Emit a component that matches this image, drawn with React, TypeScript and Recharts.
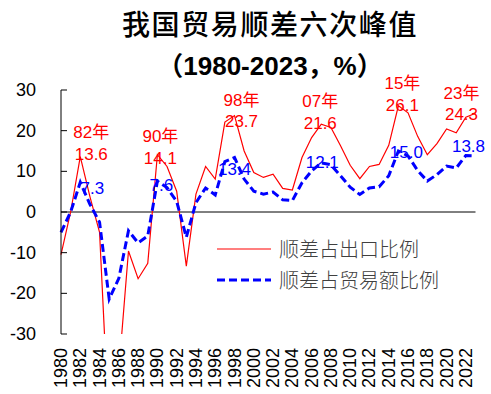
import React from 'react';
import { LineChart, Line, XAxis, YAxis, ReferenceLine, ReferenceDot, Legend } from 'recharts';

const years = [
  1980, 1981, 1982, 1983, 1984, 1985, 1986, 1987, 1988, 1989,
  1990, 1991, 1992, 1993, 1994, 1995, 1996, 1997, 1998, 1999,
  2000, 2001, 2002, 2003, 2004, 2005, 2006, 2007, 2008, 2009,
  2010, 2011, 2012, 2013, 2014, 2015, 2016, 2017, 2018, 2019,
  2020, 2021, 2022, 2023,
];
const exportRatio = [
  -10.5, 0.0, 13.6, 3.8, -5.0, -54.0, -38.9, -9.6, -16.4, -12.6,
  14.1, 11.2, 5.1, -13.3, 4.4, 11.2, 8.1, 22.1, 23.7, 15.0,
  9.7, 8.5, 9.3, 5.8, 5.4, 13.4, 18.3, 21.6, 20.8, 16.3,
  11.5, 8.2, 11.2, 11.7, 16.4, 26.1, 24.4, 18.6, 14.1, 16.8,
  20.4, 19.5, 23.3, 24.3,
];
const tradeRatio = [
  -5.0, 0.0, 7.3, 1.9, -2.5, -21.4, -16.3, -4.6, -7.6, -5.9,
  7.6, 6.0, 2.6, -6.2, 2.3, 5.9, 4.2, 12.4, 13.4, 8.1,
  5.1, 4.4, 4.9, 3.0, 2.8, 7.2, 10.1, 12.1, 11.6, 8.9,
  6.1, 4.3, 5.9, 6.2, 8.9, 15.0, 13.8, 10.2, 7.6, 9.2,
  11.3, 10.8, 13.9, 13.8,
];
const xTicks = [1980, 1982, 1984, 1986, 1988, 1990, 1992, 1994, 1996, 1998, 2000, 2002, 2004, 2006, 2008, 2010, 2012, 2014, 2016, 2018, 2020, 2022];
const yTicks = [-30, -20, -10, 0, 10, 20, 30];

const peakYears = [1982, 1990, 1998, 2007, 2015, 2023];
const peakTags = ['82年', '90年', '98年', '07年', '15年', '23年'];

const seriesNames = ['顺差占出口比例', '顺差占贸易额比例'];
const title = '我国贸易顺差六次峰值';
const subtitle = '（1980-2023，%）';

// label offsets (styling, px): [dx, dyTag, dyValue]
const exportLabelOffsets = [
  [11, -24, -2],
  [3, -18, 4],
  [7, -15, 6],
  [-1, -23, -1],
  [4, -22, 0],
  [-14, -20, 1],
];
const tradeLabelOffsets = [
  [12, 6],
  [4, 4],
  [0, 12],
  [1, 0],
  [8, 1],
  [-7, -9],
];

const RED = '#FF0000';
const BLUE = '#0000FF';
const NUM_FONT = '"Liberation Sans", Arial, "Noto Sans CJK SC", sans-serif';
const CJK_FONT = '"Noto Sans CJK SC", sans-serif';

const data = years.map((y, i) => ({ year: y, exp: exportRatio[i], trade: tradeRatio[i] }));

const YTick = (props: any) => {
  const { x, y, payload } = props;
  return (
    <g>
      <line x1={x} x2={x + 6} y1={y} y2={y} stroke="#000" strokeWidth={1} />
      <text x={x - 25} y={y} textAnchor="end" dominantBaseline="central" fontSize={18} fontFamily={NUM_FONT} fill="#000">
        {payload.value}
      </text>
    </g>
  );
};

const XTick = (props: any) => {
  const { x, y, payload } = props;
  const ax = x + 6;
  const ay = y + 14;
  return (
    <text x={ax} y={ay} transform={`rotate(-90, ${ax}, ${ay})`} textAnchor="end" fontSize={18} fontFamily={NUM_FONT} fill="#000">
      {payload.value}
    </text>
  );
};

const makeExportLabel = (i: number) => (p: any) => {
  const vb = p.viewBox;
  const cx = vb.x + vb.width / 2;
  const cy = vb.y + vb.height / 2;
  const [dx, dyT, dyV] = exportLabelOffsets[i];
  const idx = years.indexOf(peakYears[i]);
  return (
    <g>
      <text x={cx + dx} y={cy + dyT} textAnchor="middle" dominantBaseline="central" fontSize={17} fontFamily={NUM_FONT} fill={RED}>
        {peakTags[i]}
      </text>
      <text x={cx + dx} y={cy + dyV} textAnchor="middle" dominantBaseline="central" fontSize={17} fontFamily={NUM_FONT} fill={RED}>
        {exportRatio[idx].toFixed(1)}
      </text>
    </g>
  );
};

const makeTradeLabel = (i: number) => (p: any) => {
  const vb = p.viewBox;
  const cx = vb.x + vb.width / 2;
  const cy = vb.y + vb.height / 2;
  const [dx, dy] = tradeLabelOffsets[i];
  const idx = years.indexOf(peakYears[i]);
  return (
    <text x={cx + dx} y={cy + dy} textAnchor="middle" dominantBaseline="central" fontSize={17} fontFamily={NUM_FONT} fill={BLUE}>
      {tradeRatio[idx].toFixed(1)}
    </text>
  );
};

const LegendContent = () => {
  const rows = [
    { name: seriesNames[0], color: RED, width: 1.2, dash: undefined as string | undefined },
    { name: seriesNames[1], color: BLUE, width: 3, dash: '8 4' },
  ];
  return (
    <div>
      {rows.map((r) => (
        <div key={r.name} style={{ display: 'flex', alignItems: 'center', height: 31 }}>
          <svg width={56} height={6} style={{ marginRight: 6 }}>
            <line x1={0} x2={54} y1={3} y2={3} stroke={r.color} strokeWidth={r.width} strokeDasharray={r.dash} />
          </svg>
          <span style={{ fontFamily: CJK_FONT, fontSize: 20, fontWeight: 300, color: '#404040', lineHeight: '31px' }}>{r.name}</span>
        </div>
      ))}
    </div>
  );
};

export default function App() {
  return (
    <div style={{ position: 'absolute', left: 0, top: 0, width: 491, height: 394, background: '#fff' }}>
      <LineChart width={491} height={394} data={data} margin={{ top: 90, right: 15.5, bottom: 0, left: 0 }}>
        <XAxis
          dataKey="year"
          type="number"
          domain={[1980, 2023]}
          ticks={xTicks}
          interval={0}
          axisLine={false}
          tickLine={false}
          tickSize={0}
          tickMargin={0}
          height={60}
          tick={<XTick />}
        />
        <YAxis
          type="number"
          domain={[-30, 30]}
          ticks={yTicks}
          allowDataOverflow
          width={61}
          axisLine={{ stroke: '#000', strokeWidth: 1 }}
          tickLine={false}
          tickSize={0}
          tickMargin={0}
          interval={0}
          tick={<YTick />}
        />
        <ReferenceLine y={0} stroke="#000" strokeWidth={1} />
        <Line
          type="linear"
          dataKey="exp"
          name={seriesNames[0]}
          stroke={RED}
          strokeWidth={1.2}
          dot={false}
          isAnimationActive={false}
        />
        <Line
          type="linear"
          dataKey="trade"
          name={seriesNames[1]}
          stroke={BLUE}
          strokeWidth={3}
          strokeDasharray="8 4"
          dot={false}
          isAnimationActive={false}
        />
        {peakYears.map((yr, i) => (
          <ReferenceDot
            key={'e' + yr}
            x={yr}
            y={exportRatio[years.indexOf(yr)]}
            r={1}
            fill="none"
            stroke="none"
            label={makeExportLabel(i)}
          />
        ))}
        {peakYears.map((yr, i) => (
          <ReferenceDot
            key={'t' + yr}
            x={yr}
            y={tradeRatio[years.indexOf(yr)]}
            r={1}
            fill="none"
            stroke="none"
            label={makeTradeLabel(i)}
          />
        ))}
        <Legend
          layout="vertical"
          align="center"
          verticalAlign="middle"
          content={<LegendContent />}
          wrapperStyle={{ position: 'absolute', left: 217, top: 233, width: 260, height: 62 }}
        />
      </LineChart>
      <svg width={491} height={90} style={{ position: 'absolute', left: 0, top: 0, pointerEvents: 'none' }}>
        <text x={270} y={35} textAnchor="middle" fontSize={28} letterSpacing={1.6} fontFamily={CJK_FONT} fontWeight={500} fill="#000">
          {title}
        </text>
        <text x={270} y={75} textAnchor="middle" fontSize={26} fontFamily={NUM_FONT} fontWeight="bold" fill="#000">
          {subtitle}
        </text>
      </svg>
    </div>
  );
}
